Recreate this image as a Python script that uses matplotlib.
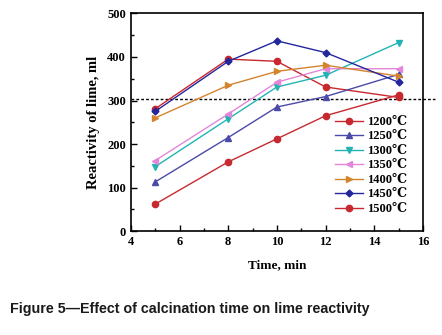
import matplotlib.pyplot as plt
from matplotlib.ticker import MultipleLocator

serif = ['Liberation Serif', 'DejaVu Serif']

# Data
time = [5, 8, 10, 12, 15]
temps = ['1200℃', '1250℃', '1300℃', '1350℃', '1400℃', '1450℃', '1500℃']
r1200 = [281, 395, 390, 331, 307]
r1250 = [113, 215, 285, 309, 360]
r1300 = [148, 258, 331, 358, 433]
r1350 = [162, 269, 342, 373, 373]
r1400 = [260, 335, 367, 381, 356]
r1450 = [275, 390, 437, 410, 342]
r1500 = [62, 159, 212, 265, 313]
series = [r1200, r1250, r1300, r1350, r1400, r1450, r1500]
threshold = 303

colors = ['#c8282d', '#4a4aa8', '#22b4b4', '#e486d8', '#d4842e', '#24269c', '#c62a30']
markers = ['o', '^', 'v', '<', '>', 'D', 'o']
msizes = [4.5, 4.5, 4.5, 4.5, 4.5, 3.5, 4.5]

fig = plt.figure(figsize=(4.42, 3.35), dpi=100)
ax = fig.add_axes([0.296, 0.31, 0.661, 0.65])

for vals, lab, c, m, ms in zip(series, temps, colors, markers, msizes):
    ax.plot(time, vals, color=c, marker=m, markersize=ms, linewidth=1.0, label=lab)

ax.plot([4, 16.5], [threshold, threshold], color='black', linestyle=(0, (2, 1.5)),
        linewidth=1.0, clip_on=False, zorder=1)

ax.set_xlim(4, 16)
ax.set_ylim(0, 500)
ax.xaxis.set_major_locator(MultipleLocator(2))
ax.xaxis.set_minor_locator(MultipleLocator(1))
ax.yaxis.set_major_locator(MultipleLocator(100))
ax.yaxis.set_minor_locator(MultipleLocator(50))
ax.tick_params(which='both', direction='in', top=False, right=False, labelsize=9)
ax.tick_params(which='major', length=4, width=1)
ax.tick_params(which='minor', length=2, width=1)
for lbl in ax.get_xticklabels() + ax.get_yticklabels():
    lbl.set_family(serif)
    lbl.set_fontweight('bold')
for s in ax.spines.values():
    s.set_linewidth(1.2)

ax.set_xlabel('Time, min', family=serif, fontweight='bold', fontsize=9.5, labelpad=8)
ax.set_ylabel('Reactivity of lime, ml', family=serif, fontweight='bold', fontsize=10.5, labelpad=5)

ax.legend(loc='lower right', bbox_to_anchor=(0.97, 0.04), frameon=False,
          prop={'family': serif, 'weight': 'bold', 'size': 9},
          handlelength=2.2, labelspacing=0.2, handletextpad=0.3, borderaxespad=0.2)

fig.text(0.023, 0.066, 'Figure 5\u2014Effect of calcination time on lime reactivity',
         family='Liberation Sans', fontweight='bold', fontsize=10.3, color='#1a1a1a')

fig.savefig('out.png', dpi=100)
